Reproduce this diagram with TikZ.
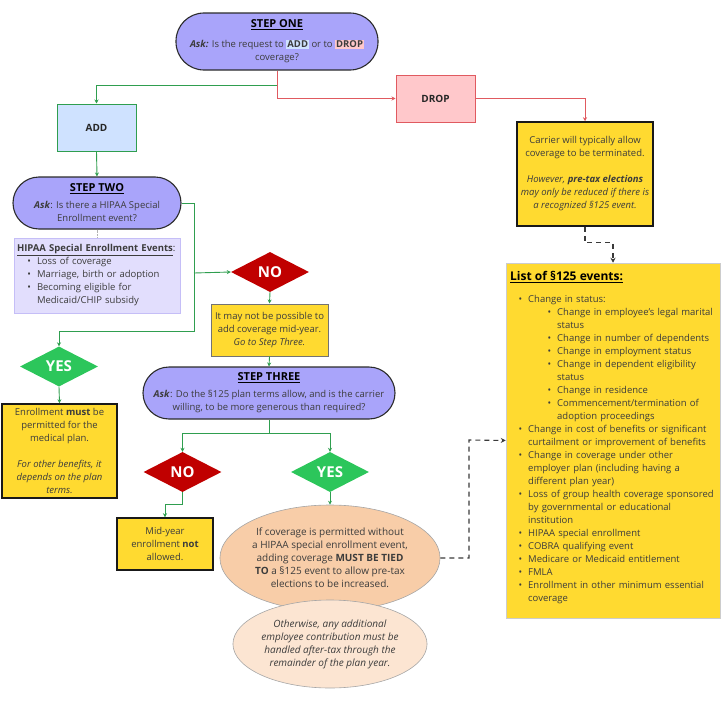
\documentclass[tikz,border=0pt]{standalone}
\usepackage{fontspec}
\setmainfont{Open Sans}
\usepackage{enumitem}
\usetikzlibrary{shapes.geometric,arrows.meta}

\definecolor{stepfill}{HTML}{A9A4FA}
\definecolor{pillline}{HTML}{2B2B2B}
\definecolor{addfill}{HTML}{CFE2FF}
\definecolor{dropfill}{HTML}{FFC8CB}
\definecolor{dropline}{HTML}{E05A60}
\definecolor{flowgreen}{HTML}{2F9E4F}
\definecolor{noteyellow}{HTML}{FFDA30}
\definecolor{nored}{HTML}{C00000}
\definecolor{yesgreen}{HTML}{2CC65B}
\definecolor{hipaafill}{HTML}{E2DEFD}
\definecolor{hipaaline}{HTML}{C5BEF7}
\definecolor{peach}{HTML}{F8CDA8}
\definecolor{lightpeach}{HTML}{FCE5D2}
\definecolor{textgray}{HTML}{3C3C3C}
\definecolor{dashgray}{HTML}{3A3A3A}

\newcommand{\bodysize}{\fontsize{9.5}{13}\selectfont}
\newcommand{\bubblesize}{\fontsize{10}{13}\selectfont}
\newcommand{\answersize}{\fontsize{15}{18}\selectfont\bfseries}
\newcommand{\steptitle}[1]{{\fontsize{11}{13}\selectfont\bfseries\color{black}\underline{#1}}}
\setlist[itemize]{nosep,label=\textbullet,labelsep=6pt}
\setlength{\fboxsep}{1pt}

\begin{document}
\begin{tikzpicture}[x=1pt,y=-1pt,
    every node/.style={font=\bodysize,text=textgray},
    pill/.style={draw=pillline,line width=1.1pt,fill=stepfill,align=center,inner sep=0pt},
    choicebox/.style={line width=1pt,font=\fontsize{10}{12}\selectfont\bfseries,text=black!85,minimum width=79pt,minimum height=47pt},
    notebox/.style={draw=black!90,line width=1.5pt,fill=noteyellow,align=center,inner sep=0pt},
    answer/.style={diamond,aspect=2,minimum width=78pt,minimum height=40pt,inner sep=0pt,font=\answersize,text=white},
    bubble/.style={ellipse,draw=black!35,line width=0.6pt,align=center,inner sep=0pt,font=\bubblesize},
    greenflow/.style={draw=flowgreen,line width=0.9pt,-{Stealth[length=4pt,width=4pt]}},
    redflow/.style={draw=dropline,line width=0.9pt,-{Stealth[length=4pt,width=4pt]}},
    dashflow/.style={draw=dashgray,line width=1.1pt,dash pattern=on 5pt off 4pt,-{Stealth[length=5pt,width=5pt]}}]
  \useasboundingbox (0,0) rectangle (721,704);

  % step one and the two choices
  \node[pill,rounded corners=28pt,minimum width=202pt,minimum height=57pt] (stepone) at (277,41.5)
    {\steptitle{STEP ONE}\\[7pt]
     \textbf{\textit{Ask:}} Is the request to \colorbox{addfill}{\textbf{ADD}} or to \colorbox{dropfill}{\textbf{DROP}}\\
     coverage?};
  \node[choicebox,draw=flowgreen,fill=addfill] (add) at (96.5,127.5) {ADD};
  \node[choicebox,draw=dropline,fill=dropfill] (drop) at (435.5,98.5) {DROP};
  \coordinate (split1) at (277,85);

  % drop side
  \node[notebox,minimum width=136pt,minimum height=104pt] (carrier) at (585,174)
    {Carrier will typically allow\\
     coverage to be terminated.\\[13pt]
     \textit{However, \textbf{pre-tax elections}}\\
     \textit{may only be reduced if there is}\\
     \textit{a recognized §125 event.}};
  \node[draw=black!20,line width=0.5pt,fill=noteyellow,minimum width=214pt,minimum height=355pt] (listbox) at (613,440.5) {};
  \node[anchor=north west,inner sep=0pt,text width=212pt,align=left] (listtext) at (510,271)
    {{\fontsize{12}{14}\selectfont\bfseries\color{black}\underline{List of §125 events:}}\par\vspace{9pt}
     \begin{itemize}[leftmargin=18pt]
       \item Change in status:
         \begin{itemize}[leftmargin=29pt]
           \item Change in employee’s legal marital\newline status
           \item Change in number of dependents
           \item Change in employment status
           \item Change in dependent eligibility\newline status
           \item Change in residence
           \item Commencement/termination of\newline adoption proceedings
         \end{itemize}
       \item Change in cost of benefits or significant\newline curtailment or improvement of benefits
       \item Change in coverage under other\newline employer plan (including having a\newline different plan year)
       \item Loss of group health coverage sponsored\newline by governmental or educational\newline institution
       \item HIPAA special enrollment
       \item COBRA qualifying event
       \item Medicare or Medicaid entitlement
       \item FMLA
       \item Enrollment in other minimum essential\newline coverage
     \end{itemize}};

  % add side
  \node[pill,rounded corners=26pt,minimum width=168pt,minimum height=52pt] (steptwo) at (97,203)
    {\steptitle{STEP TWO}\\[4pt]
     \textbf{\textit{Ask}}: Is there a HIPAA Special\\
     Enrollment event?};
  \node[draw=hipaaline,fill=hipaafill,line width=0.8pt,minimum width=166pt,minimum height=75pt,
        text width=160pt,inner xsep=3pt,align=left] (hipaa) at (97,275.5)
    {\textbf{\underline{HIPAA Special Enrollment Events}}:
     \begin{itemize}[leftmargin=20pt]
       \item Loss of coverage
       \item Marriage, birth or adoption
       \item Becoming eligible for\newline Medicaid/CHIP subsidy
     \end{itemize}};
  \node[answer,fill=nored] (noone) at (270,272) {NO};
  \node[notebox,draw=black!55,line width=1pt,minimum width=117pt,minimum height=52pt] (maybe) at (269.5,330)
    {It may not be possible to\\
     add coverage mid-year.\\
     \textit{Go to Step Three.}};
  \node[answer,fill=yesgreen] (yesone) at (59,366.5) {YES};
  \node[notebox,minimum width=115pt,minimum height=94pt] (mustbox) at (59.5,451)
    {Enrollment \textbf{must} be\\
     permitted for the\\
     medical plan.\\[13pt]
     \textit{For other benefits, it}\\
     \textit{depends on the plan}\\
     \textit{terms.}};

  % step three
  \node[pill,rounded corners=26pt,minimum width=252pt,minimum height=52pt] (stepthree) at (269,393)
    {\steptitle{STEP THREE}\\[4pt]
     \textbf{\textit{Ask}}: Do the §125 plan terms allow, and is the carrier\\
     willing, to be more generous than required?};
  \coordinate (split3) at (269,433);
  \node[answer,fill=nored] (notwo) at (182.5,472) {NO};
  \node[answer,fill=yesgreen] (yestwo) at (330,472) {YES};
  \node[notebox,minimum width=96pt,minimum height=52pt] (midyear) at (165,544)
    {Mid-year\\
     enrollment \textbf{not}\\
     allowed.};
  \node[bubble,fill=peach,minimum width=215pt,minimum height=106pt] (tied) at (330,558)
    {If coverage is permitted without\\
     a HIPAA special enrollment event,\\
     adding coverage \textbf{MUST BE TIED}\\
     \textbf{TO} a §125 event to allow pre-tax\\
     elections to be increased.};
  \node[bubble,fill=lightpeach,minimum width=190pt,minimum height=88pt] (aftertax) at (330,644)
    {\textit{Otherwise, any additional}\\
     \textit{employee contribution must be}\\
     \textit{handled after-tax through the}\\
     \textit{remainder of the plan year.}};
  \coordinate (bend2) at (194,331);
  \coordinate (split2) at (194,273);
  \coordinate (bend4) at (469,440);

  \begin{scope}
    \draw[redflow] (stepone.south) |- (drop.west);
    \draw[greenflow] (split1) -| (add.north);
    \draw[redflow] (drop.east) -| (carrier.north);
    \draw[dashflow] (carrier.south) -- ++(0,16) -| (listbox.north);
    \draw[greenflow] (add.south) -- (steptwo.north);
    \draw[black!30,densely dotted] (steptwo.south) -- (hipaa.north);
    \draw[greenflow] (steptwo.east) -| (bend2) -| (yesone.north);
    \draw[greenflow] (split2) -- (noone.west);
    \draw[greenflow] (noone.south) -- (maybe.north);
    \draw[greenflow] (maybe.south) -- (stepthree.north);
    \draw[greenflow] (yesone.south) -- (mustbox.north);
    \draw[draw=flowgreen,line width=0.9pt] (stepthree.south) -- (split3);
    \draw[greenflow] (split3) -| (notwo.north);
    \draw[greenflow] (split3) -| (yestwo.north);
    \draw[greenflow] (notwo.south) -- ++(0,12) -| (midyear.north);
    \draw[greenflow] (yestwo.south) -- (tied.north);
    \draw[dashflow] (tied.east) -| (bend4) -- (listbox.west);
  \end{scope}
\end{tikzpicture}
\end{document}
